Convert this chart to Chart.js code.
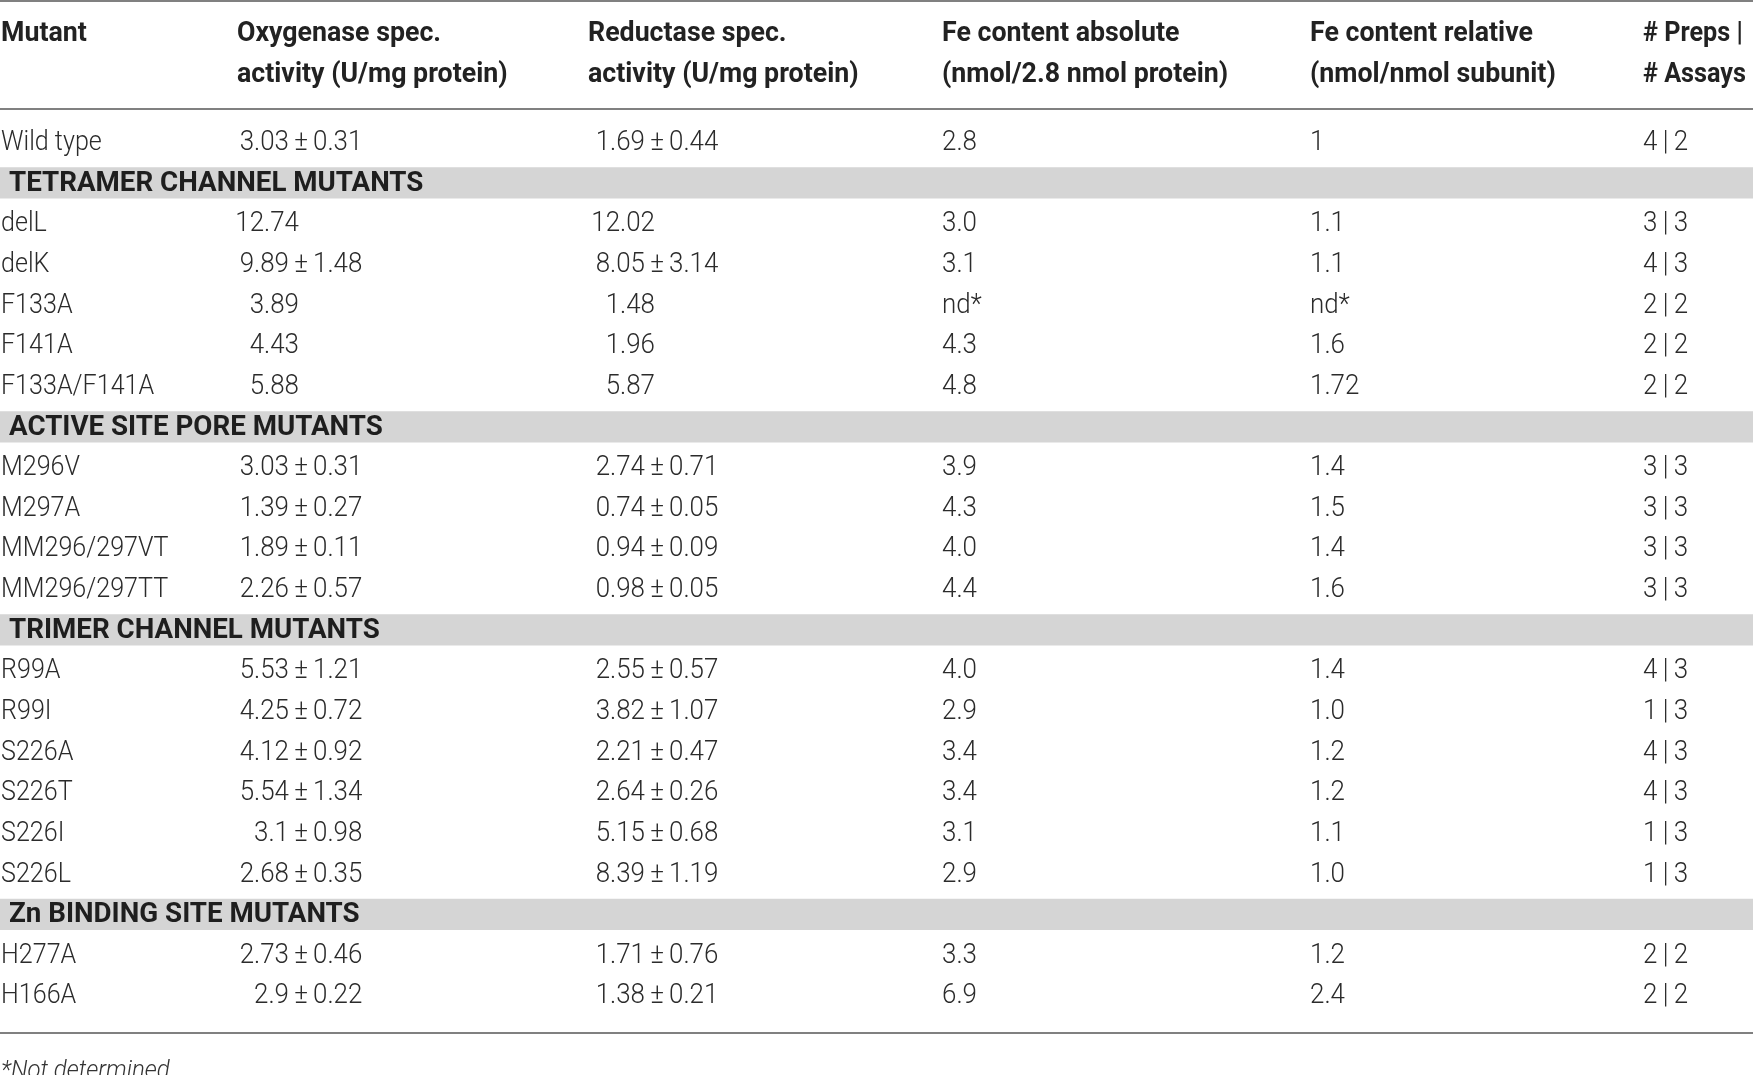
<!DOCTYPE html>
<html>
<head>
<meta charset="utf-8">
<script src="https://cdn.jsdelivr.net/npm/chart.js@4.4.1/dist/chart.umd.min.js"></script>
<style>
  html, body { margin: 0; padding: 0; background: #fff; }
  #wrap { width: 1753px; height: 1075px; position: relative; }
</style>
</head>
<body>
<div id="wrap"><canvas id="table-chart"></canvas></div>
<script>
// rows of the table, section titles included in their place
const rowLabels = [
  "Wild type",
  "TETRAMER CHANNEL MUTANTS",
  "delL", "delK", "F133A", "F141A", "F133A/F141A",
  "ACTIVE SITE PORE MUTANTS",
  "M296V", "M297A", "MM296/297VT", "MM296/297TT",
  "TRIMER CHANNEL MUTANTS",
  "R99A", "R99I", "S226A", "S226T", "S226I", "S226L",
  "Zn BINDING SITE MUTANTS",
  "H277A", "H166A",
];
const sectionTitles = [
  "TETRAMER CHANNEL MUTANTS",
  "ACTIVE SITE PORE MUTANTS",
  "TRIMER CHANNEL MUTANTS",
  "Zn BINDING SITE MUTANTS",
];

const oxyMean = ["3.03", "", "12.74", "9.89", "3.89", "4.43", "5.88", "", "3.03", "1.39", "1.89", "2.26", "", "5.53", "4.25", "4.12", "5.54", "3.1", "2.68", "", "2.73", "2.9"];
const oxySd   = ["0.31", "", "", "1.48", "", "", "", "", "0.31", "0.27", "0.11", "0.57", "", "1.21", "0.72", "0.92", "1.34", "0.98", "0.35", "", "0.46", "0.22"];
const redMean = ["1.69", "", "12.02", "8.05", "1.48", "1.96", "5.87", "", "2.74", "0.74", "0.94", "0.98", "", "2.55", "3.82", "2.21", "2.64", "5.15", "8.39", "", "1.71", "1.38"];
const redSd   = ["0.44", "", "", "3.14", "", "", "", "", "0.71", "0.05", "0.09", "0.05", "", "0.57", "1.07", "0.47", "0.26", "0.68", "1.19", "", "0.76", "0.21"];
const feAbsolute = ["2.8", "", "3.0", "3.1", "nd*", "4.3", "4.8", "", "3.9", "4.3", "4.0", "4.4", "", "4.0", "2.9", "3.4", "3.4", "3.1", "2.9", "", "3.3", "6.9"];
const feRelative = ["1", "", "1.1", "1.1", "nd*", "1.6", "1.72", "", "1.4", "1.5", "1.4", "1.6", "", "1.4", "1.0", "1.2", "1.2", "1.1", "1.0", "", "1.2", "2.4"];
const preps  = ["4", "", "3", "4", "2", "2", "2", "", "3", "3", "3", "3", "", "4", "1", "4", "4", "1", "1", "", "2", "2"];
const assays = ["2", "", "3", "3", "2", "2", "2", "", "3", "3", "3", "3", "", "3", "3", "3", "3", "3", "3", "", "2", "2"];

const headerLines = [
  ["Mutant"],
  ["Oxygenase spec.", "activity (U/mg protein)"],
  ["Reductase spec.", "activity (U/mg protein)"],
  ["Fe content absolute", "(nmol/2.8 nmol protein)"],
  ["Fe content relative", "(nmol/nmol subunit)"],
  ["# Preps |", "# Assays"],
];
const footnote = "*Not determined.";

document.addEventListener("DOMContentLoaded", () => {
  const TABLE_W = 1753;
  // column left edges (x scale units = pixels)
  const colLeft = [1, 237, 588, 942, 1310, 1643];
  // where the ± sign sits in the two activity columns
  const pmOxy = 301;
  const pmRed = 657;

  const bodyFont = "300 27px Roboto";
  const boldFont = "700 28px Roboto";
  const italicFont = "italic 300 25px Roboto";
  const textColor = "#2b2b2b";
  const ruleColor = "#808080";
  const TY = 1; // "middle" baseline sits a bit high for caps/digits

  function put(ctx, text, px, py, align, font, color, sx) {
    if (!text) return;
    ctx.save();
    ctx.font = font;
    ctx.fillStyle = color || textColor;
    ctx.textBaseline = "middle";
    ctx.textAlign = align;
    ctx.translate(px, py + TY);
    ctx.scale(sx || 0.96, 1);
    ctx.fillText(text, 0, 0);
    ctx.restore();
  }

  function putValue(ctx, mean, sd, anchor, py) {
    if (!mean) return;
    if (sd) {
      put(ctx, mean, anchor - 12, py, "right", bodyFont);
      put(ctx, "\u00b1", anchor, py, "center", bodyFont);
      put(ctx, sd, anchor + 12, py, "left", bodyFont);
    } else {
      put(ctx, mean, anchor - 2, py, "right", bodyFont);
    }
  }

  const tablePlugin = {
    id: "tableText",
    afterDatasetsDraw(chart) {
      const ctx = chart.ctx;
      const xs = chart.scales.x;
      const ys = chart.scales.y;
      const W = chart.width;

      // rules
      ctx.save();
      ctx.fillStyle = ruleColor;
      ctx.fillRect(0, 0, W, 2);
      ctx.fillRect(0, ys.top - 14, W, 2);
      ctx.fillRect(0, ys.bottom + 16, W, 2);
      ctx.restore();

      // header
      headerLines.forEach((lines, c) => {
        const sx = c === 5 ? 0.9 : 0.955;
        lines.forEach((line, k) => {
          put(ctx, line, xs.getPixelForValue(colLeft[c]), ys.top - 89 + k * 41, "left", boldFont, "#222", sx);
        });
      });

      // body rows
      rowLabels.forEach((label, i) => {
        const py = ys.getPixelForValue(i);
        if (sectionTitles.includes(label)) {
          put(ctx, label, xs.getPixelForValue(9), py, "left", boldFont, "#1e1e1e", 0.99);
          return;
        }
        put(ctx, label, xs.getPixelForValue(colLeft[0]), py, "left", bodyFont, textColor, 0.93);
        putValue(ctx, oxyMean[i], oxySd[i], xs.getPixelForValue(pmOxy), py);
        putValue(ctx, redMean[i], redSd[i], xs.getPixelForValue(pmRed), py);
        put(ctx, feAbsolute[i], xs.getPixelForValue(colLeft[3]), py, "left", bodyFont);
        put(ctx, feRelative[i], xs.getPixelForValue(colLeft[4]), py, "left", bodyFont);
        if (preps[i]) {
          put(ctx, preps[i] + "\u2009|\u2009" + assays[i], xs.getPixelForValue(colLeft[5]), py, "left", bodyFont);
        }
      });

      // footnote
      put(ctx, footnote, xs.getPixelForValue(1), ys.bottom + 55, "left", italicFont, "#333");
    },
  };

  const ctx = document.getElementById("table-chart").getContext("2d");
  new Chart(ctx, {
    type: "bar",
    data: {
      labels: rowLabels,
      datasets: [
        {
          label: "sections",
          data: rowLabels.map((l) => (sectionTitles.includes(l) ? [0, TABLE_W] : null)),
          backgroundColor: "#d5d5d5",
          borderWidth: 0,
          barPercentage: 0.77,
          categoryPercentage: 1,
        },
      ],
    },
    options: {
      indexAxis: "y",
      responsive: true,
      maintainAspectRatio: false,
      animation: false,
      layout: { padding: { top: 122, bottom: 59, left: 0, right: 0 } },
      plugins: { legend: { display: false }, tooltip: { enabled: false } },
      scales: {
        x: { type: "linear", min: 0, max: TABLE_W, display: false },
        y: { display: false },
      },
    },
    plugins: [tablePlugin],
  });
});
</script>
</body>
</html>
